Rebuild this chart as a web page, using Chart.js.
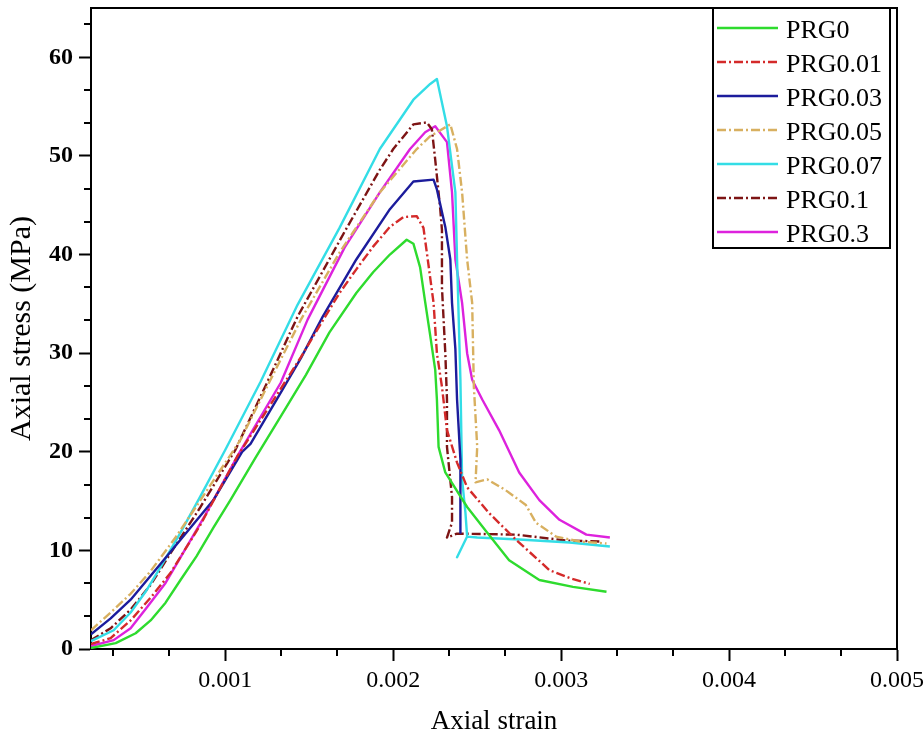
<!DOCTYPE html>
<html lang="en">
<head>
<meta charset="UTF-8">
<title>Axial stress - axial strain</title>
<script src="https://cdn.jsdelivr.net/npm/chart.js"></script>
<style>
  html, body { margin: 0; padding: 0; background: #fff; }
</style>
</head>
<body>
<canvas id="chart" width="924" height="740"></canvas>
<script>
// tick values
const strainTicks = [0.001, 0.002, 0.003, 0.004, 0.005];
const stressTicks = [0, 10, 20, 30, 40, 50, 60];

const prg0Strain = [0.0002, 0.000347, 0.000466, 0.000555, 0.000644, 0.000733, 0.000828, 0.000929, 0.00103, 0.00118, 0.00133, 0.00148, 0.00162, 0.00178, 0.00188, 0.00198, 0.00208, 0.00212, 0.00216, 0.00219, 0.00222, 0.00225, 0.00226, 0.00227, 0.00231, 0.00244, 0.00256, 0.00269, 0.00287, 0.00307, 0.00327];
const prg0Stress = [0.1, 0.6, 1.6, 2.9, 4.7, 7.0, 9.4, 12.3, 15.1, 19.4, 23.6, 27.8, 32.1, 36.1, 38.2, 40.0, 41.5, 41.1, 38.7, 35.2, 31.8, 28.3, 25.3, 20.5, 17.9, 14.4, 11.8, 9.0, 7.0, 6.3, 5.8];

const prg001Strain = [0.0002, 0.000317, 0.000436, 0.000555, 0.000673, 0.000852, 0.00107, 0.00127, 0.00145, 0.00158, 0.00168, 0.00178, 0.00188, 0.00198, 0.00206, 0.00214, 0.00218, 0.0022, 0.00224, 0.00226, 0.00229, 0.00232, 0.00238, 0.00244, 0.00257, 0.00273, 0.00293, 0.00305, 0.00317];
const prg001Stress = [0.5, 1.1, 2.9, 5.2, 7.7, 12.6, 19.5, 24.8, 29.6, 33.3, 36.1, 38.5, 40.8, 42.8, 43.8, 43.9, 42.7, 40.2, 35.1, 30.0, 26.6, 22.2, 18.9, 16.4, 13.8, 11.1, 8.0, 7.2, 6.6];

const prg003Strain = [0.0002, 0.000317, 0.000436, 0.000632, 0.000929, 0.0011, 0.00115, 0.00133, 0.00145, 0.00158, 0.00178, 0.00198, 0.00212, 0.00224, 0.00226, 0.00231, 0.00234, 0.00235, 0.00237, 0.00238, 0.0024, 0.0024];
const prg003Stress = [1.5, 3.1, 5.0, 9.0, 15.1, 20.0, 20.8, 26.0, 29.5, 33.7, 39.5, 44.6, 47.4, 47.6, 46.6, 42.8, 39.5, 35.1, 30.4, 25.3, 19.2, 11.8];

const prg005Strain = [0.0002, 0.000317, 0.000436, 0.000555, 0.000703, 0.000852, 0.00109, 0.00126, 0.00145, 0.00168, 0.00192, 0.00214, 0.00222, 0.00234, 0.00238, 0.00241, 0.00244, 0.00247, 0.00248, 0.0025, 0.00249, 0.00256, 0.00267, 0.00279, 0.00285, 0.00297, 0.00311, 0.00327];
const prg005Stress = [1.9, 3.7, 5.6, 7.9, 11.3, 15.1, 21.2, 27.0, 33.4, 40.2, 46.3, 50.7, 52.0, 53.2, 50.7, 46.3, 39.5, 35.1, 26.6, 20.5, 16.9, 17.2, 16.1, 14.6, 12.8, 11.4, 10.9, 10.7];

const prg007Strain = [0.0002, 0.000335, 0.000436, 0.000525, 0.000614, 0.000733, 0.000852, 0.001, 0.00121, 0.00143, 0.00168, 0.00192, 0.00212, 0.00222, 0.00226, 0.00232, 0.00237, 0.00238, 0.0024, 0.00241, 0.00243, 0.00244, 0.00238, 0.00244, 0.0025, 0.00275, 0.00305, 0.00329];
const prg007Stress = [0.8, 1.9, 3.7, 5.8, 8.3, 11.8, 15.5, 20.2, 27.1, 34.9, 42.7, 50.7, 55.7, 57.3, 57.8, 53.0, 46.3, 39.5, 27.3, 17.2, 13.8, 11.4, 9.3, 11.4, 11.3, 11.1, 10.8, 10.4];

const prg01Strain = [0.0002, 0.000317, 0.000436, 0.000555, 0.000673, 0.000852, 0.00106, 0.00124, 0.00143, 0.00171, 0.00192, 0.002, 0.00212, 0.0022, 0.00223, 0.00225, 0.00228, 0.00229, 0.00229, 0.00231, 0.00232, 0.00232, 0.00235, 0.00235, 0.00232, 0.00238, 0.00273, 0.00303, 0.00324];
const prg01Stress = [0.9, 2.1, 4.0, 6.5, 9.7, 14.4, 20.2, 26.7, 33.7, 42.3, 48.6, 50.7, 53.2, 53.4, 52.7, 49.6, 44.6, 42.5, 36.7, 30.0, 25.3, 20.5, 15.4, 12.8, 11.3, 11.7, 11.6, 11.0, 10.9];

const prg03Strain = [0.0002, 0.000335, 0.000436, 0.000537, 0.000644, 0.000733, 0.000881, 0.00107, 0.00133, 0.00149, 0.00171, 0.00192, 0.0021, 0.00219, 0.00225, 0.00232, 0.00235, 0.00237, 0.00241, 0.00244, 0.00247, 0.00253, 0.00263, 0.00275, 0.00287, 0.00299, 0.00315, 0.00329];
const prg03Stress = [0.3, 0.9, 2.1, 4.3, 6.7, 9.3, 13.6, 19.5, 27.0, 33.4, 40.7, 46.3, 50.7, 52.4, 53.0, 51.4, 46.3, 39.5, 35.1, 30.0, 27.3, 25.3, 22.2, 17.9, 15.1, 13.1, 11.6, 11.3];

const serif = "'Liberation Serif', 'Times New Roman', serif";
const dashDot = [9, 3, 2, 3];

function points(strain, stress) {
    return strain.map((x, i) => ({ x: x, y: stress[i] }));
}

const datasets = [
    { label: 'PRG0', data: points(prg0Strain, prg0Stress), borderColor: '#2edb2e', borderWidth: 2.4 },
    { label: 'PRG0.01', data: points(prg001Strain, prg001Stress), borderColor: '#d42a2a', borderWidth: 2.4, borderDash: dashDot },
    { label: 'PRG0.03', data: points(prg003Strain, prg003Stress), borderColor: '#1c1c9c', borderWidth: 2.4 },
    { label: 'PRG0.05', data: points(prg005Strain, prg005Stress), borderColor: '#d8b060', borderWidth: 2.4, borderDash: dashDot },
    { label: 'PRG0.07', data: points(prg007Strain, prg007Stress), borderColor: '#33dde6', borderWidth: 2.4 },
    { label: 'PRG0.1', data: points(prg01Strain, prg01Stress), borderColor: '#7d1414', borderWidth: 2.4, borderDash: dashDot },
    { label: 'PRG0.3', data: points(prg03Strain, prg03Stress), borderColor: '#dd22dd', borderWidth: 2.4 }
];

// small ticks between the labelled ones, plus the box round the plot
const minorTicks = {
    id: 'minorTicks',
    afterDraw(chart) {
        const { ctx, chartArea, scales: { x, y } } = chart;
        ctx.save();
        ctx.strokeStyle = '#000';
        ctx.lineWidth = 2;
        ctx.beginPath();
        for (let i = 1; i < 15; i++) {
            const v = i * 0.001 / 3;
            if (i % 3 === 0 || v < x.min) continue;
            const px = Math.round(x.getPixelForValue(v));
            ctx.moveTo(px, chartArea.bottom);
            ctx.lineTo(px, chartArea.bottom + 7);
        }
        for (let i = 1; i < 20; i++) {
            const v = i * 10 / 3;
            if (i % 3 === 0 || v > y.max) continue;
            const py = Math.round(y.getPixelForValue(v));
            ctx.moveTo(chartArea.left, py);
            ctx.lineTo(chartArea.left - 7, py);
        }
        ctx.moveTo(chartArea.left, chartArea.top);
        ctx.lineTo(chartArea.right, chartArea.top);
        ctx.lineTo(chartArea.right, chartArea.bottom);
        ctx.stroke();
        ctx.restore();
    }
};

// legend box in the top right corner
const boxLegend = {
    id: 'boxLegend',
    afterDraw(chart) {
        const ctx = chart.ctx;
        const left = 713, top = 8, w = 177, h = 240;
        ctx.save();
        ctx.fillStyle = '#fff';
        ctx.fillRect(left, top, w, h);
        ctx.strokeStyle = '#000';
        ctx.lineWidth = 2;
        ctx.strokeRect(left, top, w, h);
        ctx.font = '26px ' + serif;
        ctx.textBaseline = 'middle';
        chart.data.datasets.forEach((ds, i) => {
            const cy = top + 20 + i * 34;
            ctx.strokeStyle = ds.borderColor;
            ctx.lineWidth = ds.borderWidth;
            ctx.setLineDash(ds.borderDash || []);
            ctx.beginPath();
            ctx.moveTo(717, cy);
            ctx.lineTo(778, cy);
            ctx.stroke();
            ctx.setLineDash([]);
            ctx.fillStyle = '#000';
            ctx.fillText(ds.label, 786, cy + 3);
        });
        ctx.restore();
    }
};

new Chart(document.getElementById('chart'), {
    type: 'line',
    data: { datasets: datasets },
    options: {
        responsive: false,
        animation: false,
        devicePixelRatio: 1,
        layout: { padding: { top: 8, right: 27, left: 0, bottom: 0 } },
        elements: {
            point: { radius: 0 },
            line: { tension: 0, borderJoinStyle: 'round', fill: false }
        },
        plugins: {
            legend: { display: false },
            tooltip: { enabled: false }
        },
        scales: {
            x: {
                type: 'linear',
                min: 0.0002,
                max: 0.005,
                afterBuildTicks: s => { s.ticks = strainTicks.map(v => ({ value: v })); },
                afterFit: s => { s.height = 91; s.paddingLeft = 0; s.paddingRight = 0; },
                ticks: {
                    callback: v => v.toFixed(3),
                    font: { family: serif, size: 24 },
                    color: '#000',
                    padding: 5,
                    maxRotation: 0,
                    autoSkip: false
                },
                grid: { drawOnChartArea: false, tickLength: 12, tickWidth: 2, tickColor: '#000' },
                border: { display: true, color: '#000', width: 2 },
                title: {
                    display: true,
                    text: 'Axial strain',
                    font: { family: serif, size: 27 },
                    color: '#000',
                    padding: { top: 0, bottom: 2 }
                }
            },
            y: {
                min: 0,
                max: 65,
                afterBuildTicks: s => { s.ticks = stressTicks.map(v => ({ value: v })); },
                afterFit: s => { s.width = 91; s.paddingTop = 0; s.paddingBottom = 0; },
                ticks: {
                    font: { family: serif, size: 24, weight: 'bold' },
                    color: '#000',
                    padding: 6
                },
                grid: { drawOnChartArea: false, tickLength: 12, tickWidth: 2, tickColor: '#000' },
                border: { display: true, color: '#000', width: 2 },
                title: {
                    display: true,
                    text: 'Axial stress (MPa)',
                    font: { family: serif, size: 30 },
                    color: '#000',
                    padding: { top: 4, bottom: 0 }
                }
            }
        }
    },
    plugins: [minorTicks, boxLegend]
});
</script>
</body>
</html>
